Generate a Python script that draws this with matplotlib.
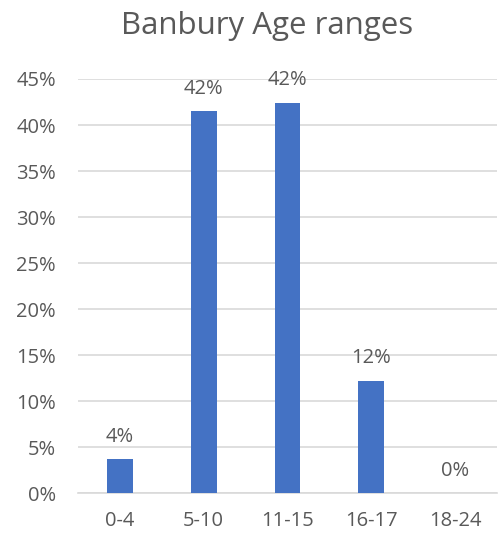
import matplotlib
matplotlib.use("Agg")
import matplotlib.pyplot as plt
from matplotlib.ticker import PercentFormatter

# Datos
categories = ['0-4', '5-10', '11-15', '16-17', '18-24']
values = [0.037, 0.415, 0.424, 0.122, 0.0]
labels = ['4%', '42%', '42%', '12%', '0%']

plt.rcParams['font.family'] = ['Open Sans', 'DejaVu Sans']
text_color = '#595959'

fig = plt.figure(figsize=(4.98, 5.34), dpi=100)
ax = fig.add_axes([78 / 498, 1 - 493.3 / 534, 419 / 498, 414.3 / 534])

x = range(len(categories))
ax.bar(x, values, width=0.31, color='#4472C4', zorder=3)

for xi, v, lab in zip(x, values, labels):
    ax.annotate(lab, (xi, v), xytext=(0, 9), textcoords='offset points',
                ha='center', va='bottom', fontsize=14.5, color=text_color)

ax.set_xlim(-0.5, 4.5)
ax.set_ylim(0, 0.45)
ax.set_yticks([i * 0.05 for i in range(10)])
ax.yaxis.set_major_formatter(PercentFormatter(1.0, decimals=0))
ax.set_xticks(list(x))
ax.set_xticklabels(categories)
ax.tick_params(axis='both', length=0, labelsize=14.5, colors=text_color)
ax.tick_params(axis='y', pad=16)
ax.tick_params(axis='x', pad=13)

ax.grid(axis='y', color='#d9d9d9', linewidth=1.2, zorder=0)
for s in ['top', 'right', 'left']:
    ax.spines[s].set_visible(False)
ax.spines['bottom'].set_color('#d9d9d9')
ax.spines['bottom'].set_linewidth(1.2)

fig.text(0.536, 1 - 26 / 534, 'Banbury Age ranges', ha='center', va='center',
         fontsize=22.5, color=text_color)

fig.savefig('out.png', dpi=100)
